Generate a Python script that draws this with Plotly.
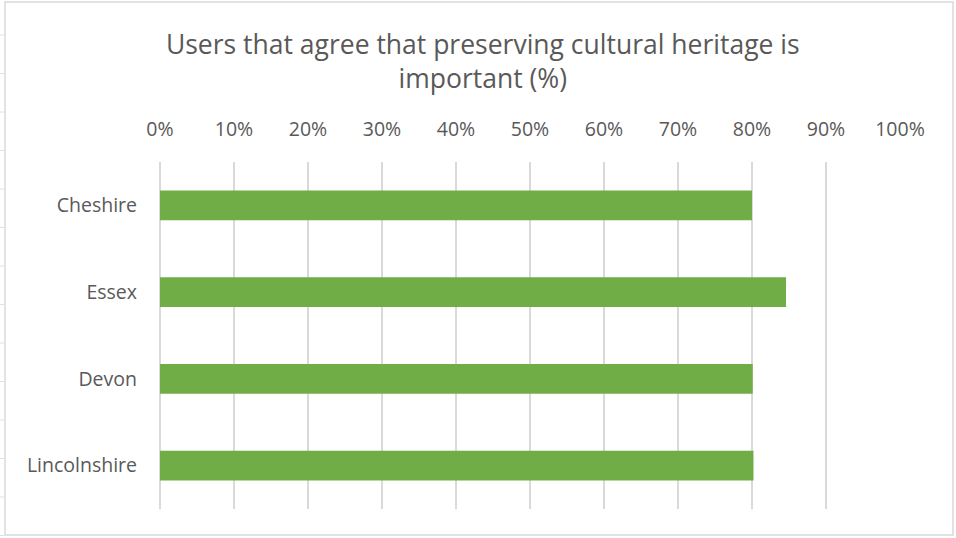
import plotly.graph_objects as go

# Survey results by county
counties = ["Cheshire", "Essex", "Devon", "Lincolnshire"]
agree_pct = [80.0, 84.6, 80.1, 80.2]
tick_values = [0, 10, 20, 30, 40, 50, 60, 70, 80, 90, 100]
tick_labels = [f"{v}%" for v in tick_values]

TEXT = "#595959"
GRID = "#d9d9d9"
FONT = "Open Sans, Liberation Sans, sans-serif"

W, H = 956, 538
ML, MR, MT, MB = 160, 56, 162, 29
pw, ph = W - ML - MR, H - MT - MB

fig = go.Figure(
    go.Bar(
        x=agree_pct,
        y=counties,
        orientation="h",
        marker=dict(color="#70AD47", line=dict(width=0)),
        width=0.345,
        hoverinfo="x+y",
    )
)


# pixel -> paper coordinate helpers for decorations
def px_x(p):
    return (p - ML) / pw


def px_y(p):
    return (H - MB - p) / ph


# light frame around the whole chart
fig.add_shape(
    type="rect", xref="paper", yref="paper",
    x0=px_x(5), x1=px_x(953), y0=px_y(535), y1=px_y(2),
    line=dict(color=GRID, width=1.5), fillcolor="rgba(0,0,0,0)", layer="below",
)

# faint ruler marks along the left edge
for i in range(14):
    yy = 35 + i * 38.5
    fig.add_shape(
        type="line", xref="paper", yref="paper",
        x0=px_x(0), x1=px_x(4), y0=px_y(yy), y1=px_y(yy),
        line=dict(color="#e0e0e0", width=1),
    )

fig.update_layout(
    width=W, height=H,
    margin=dict(l=ML, r=MR, t=MT, b=MB, pad=0),
    paper_bgcolor="white", plot_bgcolor="white",
    font=dict(family=FONT, color=TEXT, size=19.5),
    title=dict(
        text="Users that agree that preserving cultural heritage is<br>important (%)",
        x=0.505, xref="container", xanchor="center",
        y=1 - 54 / H, yanchor="top",
        font=dict(family=FONT, size=26.5, color=TEXT),
    ),
    showlegend=False,
)

fig.update_xaxes(
    side="top", range=[0, 100],
    tickvals=tick_values, ticktext=tick_labels,
    showgrid=True, gridcolor=GRID, gridwidth=2,
    zeroline=True, zerolinecolor=GRID, zerolinewidth=2,
    showline=False, ticks="", ticklabelstandoff=21,
    tickfont=dict(size=19.5, color=TEXT),
    fixedrange=True,
)
fig.update_yaxes(
    categoryorder="array", categoryarray=counties, autorange="reversed",
    showgrid=False, zeroline=False, showline=False, ticks="",
    ticklabelstandoff=22,
    tickfont=dict(size=19.5, color=TEXT),
    fixedrange=True,
)

fig.write_html("out.html")
